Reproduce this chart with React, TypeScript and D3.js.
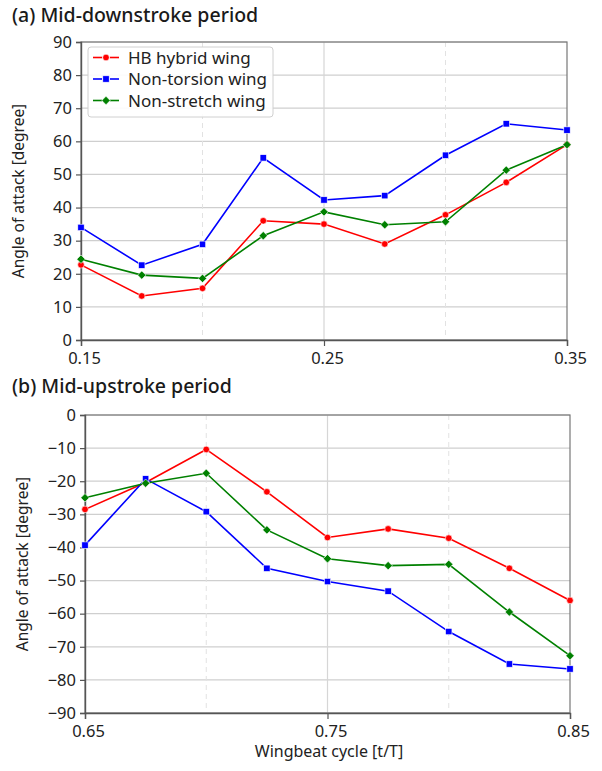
import React, { useEffect, useRef } from "react";
import * as d3 from "d3";

// wingbeat phases
const downX = [0.15, 0.175, 0.2, 0.225, 0.25, 0.275, 0.3, 0.325, 0.35];
const upX = [0.65, 0.675, 0.7, 0.725, 0.75, 0.775, 0.8, 0.825, 0.85];

// (a) mid-downstroke angle of attack
const downHybrid = [22.7, 13.3, 15.6, 36, 35, 29, 37.8, 47.6, 59];
const downNonTorsion = [34, 22.6, 28.9, 55, 42.3, 43.6, 55.8, 65.3, 63.4];
const downNonStretch = [24.4, 19.6, 18.6, 31.5, 38.7, 34.8, 35.7, 51.3, 59];

// (b) mid-upstroke angle of attack
const upHybrid = [-28.5, -20.4, -10.4, -23.2, -37, -34.4, -37.2, -46.3, -56];
const upNonTorsion = [-39.3, -19.3, -29.2, -46.3, -50.3, -53.2, -65.4, -75.2, -76.7];
const upNonStretch = [-25, -20.6, -17.6, -34.7, -43.4, -45.5, -45.1, -59.5, -72.7];

const seriesNames = ["HB hybrid wing", "Non-torsion wing", "Non-stretch wing"];
const seriesColors = ["#ff0000", "#0000ff", "#008000"];
const seriesMarkers = ["circle", "square", "diamond"];

const downTicks = [0.15, 0.25, 0.35];
const upTicks = [0.65, 0.75, 0.85];

const FONT = "'Noto Sans', 'Open Sans', sans-serif";

function drawMarker(g, type, x, y, color) {
  if (type === "circle") {
    g.append("circle").attr("cx", x).attr("cy", y).attr("r", 3.3)
      .attr("fill", color).attr("stroke", "#fff").attr("stroke-width", 0.6);
  } else if (type === "square") {
    g.append("rect").attr("x", x - 3.2).attr("y", y - 3.2).attr("width", 6.4).attr("height", 6.4)
      .attr("fill", color).attr("stroke", "#fff").attr("stroke-width", 0.6);
  } else {
    const s = 4.2;
    g.append("path").attr("d", `M${x},${y - s}L${x + s},${y}L${x},${y + s}L${x - s},${y}Z`)
      .attr("fill", color).attr("stroke", "#fff").attr("stroke-width", 0.6);
  }
}

function drawPanel(svg, opts) {
  const { left, right, top, bottom, xDomain, yDomain, xs, series, ticks, title, titleY, showLegend } = opts;
  const x = d3.scaleLinear().domain(xDomain).range([left, right]);
  const y = d3.scaleLinear().domain(yDomain).range([bottom, top]);
  const g = svg.append("g");

  g.append("text").attr("x", 12).attr("y", titleY).text(title)
    .attr("font-family", FONT).attr("font-size", 19.5).attr("font-weight", 500).attr("fill", "#1a1a1a");

  // horizontal grid
  const yTicks = d3.range(yDomain[0], yDomain[1] + 1, 10);
  g.selectAll(".hgrid").data(yTicks).join("line")
    .attr("x1", left).attr("x2", right)
    .attr("y1", (d) => y(d)).attr("y2", (d) => y(d))
    .attr("stroke", "#cfcfcf").attr("stroke-width", 1.2);

  // vertical grid
  const mid = (xDomain[0] + xDomain[1]) / 2;
  g.append("line").attr("x1", x(mid)).attr("x2", x(mid)).attr("y1", top).attr("y2", bottom)
    .attr("stroke", "#d6d6d6").attr("stroke-width", 1.2);
  [xDomain[0] + 0.05, xDomain[1] - 0.05].forEach((v) => {
    g.append("line").attr("x1", x(v)).attr("x2", x(v)).attr("y1", top).attr("y2", bottom)
      .attr("stroke", "#e2e2e2").attr("stroke-width", 1).attr("stroke-dasharray", "5,4");
  });

  // frame
  g.append("rect").attr("x", left).attr("y", top).attr("width", right - left).attr("height", bottom - top)
    .attr("fill", "none").attr("stroke", "#777").attr("stroke-width", 1.2);

  // y axis
  const yAxis = g.append("g").attr("transform", `translate(${left},0)`)
    .call(d3.axisLeft(y).tickValues(yTicks).tickSize(5).tickPadding(4).tickFormat(d3.format("d")));
  yAxis.select(".domain").attr("stroke", "#555").attr("stroke-width", 1.4);
  yAxis.selectAll(".tick line").attr("stroke", "#555").attr("stroke-width", 1.2);
  yAxis.selectAll(".tick text").attr("font-family", FONT).attr("font-size", 16.5).attr("fill", "#222")
    .text((d) => (d < 0 ? "\u2212" + Math.abs(d) : d));

  // x axis
  const xAxis = g.append("g").attr("transform", `translate(0,${bottom})`)
    .call(d3.axisBottom(x).tickValues(ticks).tickSize(6).tickPadding(6).tickFormat(d3.format(".2f")));
  xAxis.select(".domain").attr("stroke", "#555").attr("stroke-width", 1.4);
  xAxis.selectAll(".tick line").attr("stroke", "#555").attr("stroke-width", 1.2);
  xAxis.selectAll(".tick text").attr("font-family", FONT).attr("font-size", 16.5).attr("fill", "#222")
    .attr("dx", 3);

  // y label
  g.append("text")
    .attr("transform", `translate(${left - 57},${(top + bottom) / 2}) rotate(-90)`)
    .attr("text-anchor", "middle").text("Angle of attack [degree]")
    .attr("font-family", FONT).attr("font-size", 15.5).attr("fill", "#222");

  // lines + markers
  const line = d3.line().x((d) => x(d[0])).y((d) => y(d[1]));
  series.forEach((vals, i) => {
    const pts = xs.map((xv, j) => [xv, vals[j]]);
    g.append("path").attr("d", line(pts)).attr("fill", "none")
      .attr("stroke", seriesColors[i]).attr("stroke-width", 1.6);
  });
  series.forEach((vals, i) => {
    xs.forEach((xv, j) => drawMarker(g, seriesMarkers[i], x(xv), y(vals[j]), seriesColors[i]));
  });

  if (showLegend) {
    const lg = g.append("g");
    lg.append("rect").attr("x", 88).attr("y", 47).attr("width", 185).attr("height", 70).attr("rx", 3)
      .attr("fill", "#fff").attr("fill-opacity", 0.9).attr("stroke", "#d0d0d0");
    seriesNames.forEach((name, i) => {
      const ly = 57.5 + i * 21.5;
      lg.append("line").attr("x1", 93).attr("x2", 102).attr("y1", ly).attr("y2", ly)
        .attr("stroke", seriesColors[i]).attr("stroke-width", 1.6);
      lg.append("line").attr("x1", 110).attr("x2", 119).attr("y1", ly).attr("y2", ly)
        .attr("stroke", seriesColors[i]).attr("stroke-width", 1.6);
      drawMarker(lg, seriesMarkers[i], 106, ly, seriesColors[i]);
      lg.append("text").attr("x", 128).attr("y", ly + 6).text(name)
        .attr("font-family", FONT).attr("font-size", 17).attr("fill", "#222");
    });
  }
}

export default function App() {
  const ref = useRef(null);

  useEffect(() => {
    document.body.style.margin = "0";
    const svg = d3.select(ref.current);
    svg.selectAll("*").remove();

    drawPanel(svg, {
      left: 81, right: 567, top: 42, bottom: 340,
      xDomain: [0.15, 0.35], yDomain: [0, 90], xs: downX,
      series: [downHybrid, downNonTorsion, downNonStretch],
      ticks: downTicks, title: "(a) Mid-downstroke period", titleY: 22, showLegend: true,
    });

    drawPanel(svg, {
      left: 85, right: 570, top: 415, bottom: 713,
      xDomain: [0.65, 0.85], yDomain: [-90, 0], xs: upX,
      series: [upHybrid, upNonTorsion, upNonStretch],
      ticks: upTicks, title: "(b) Mid-upstroke period", titleY: 393, showLegend: false,
    });

    svg.append("text").attr("x", 329).attr("y", 757).attr("text-anchor", "middle")
      .text("Wingbeat cycle [t/T]")
      .attr("font-family", FONT).attr("font-size", 16).attr("fill", "#222");
  }, []);

  return <svg ref={ref} width={602} height={771} style={{ display: "block" }} />;
}
